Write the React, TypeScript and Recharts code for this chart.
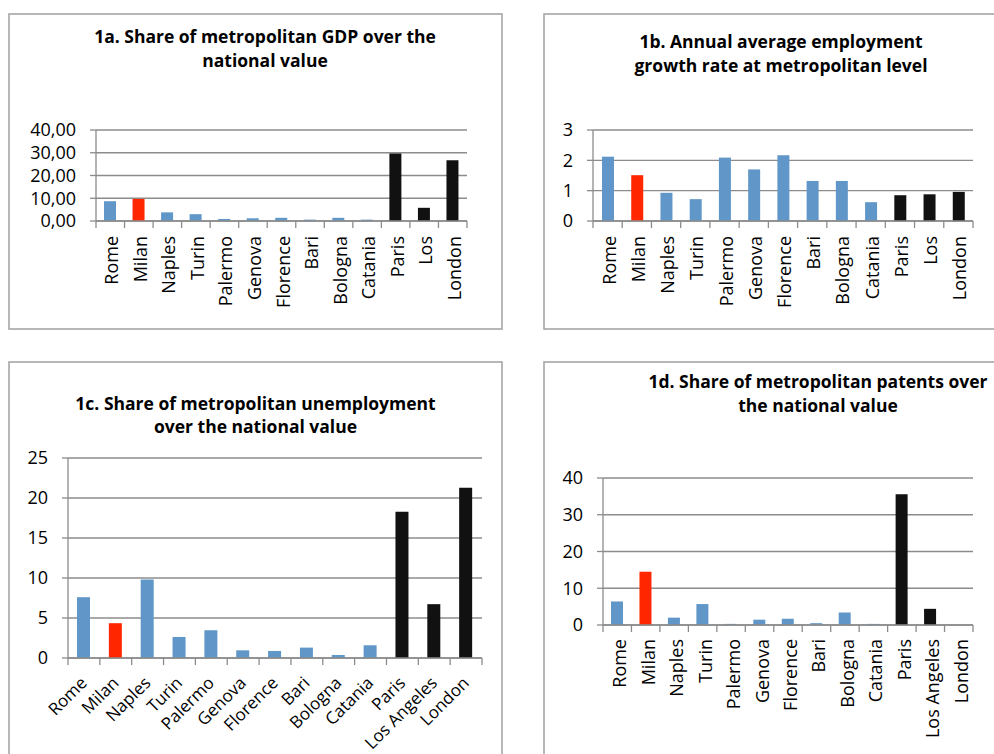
import { BarChart, Bar, XAxis, YAxis, CartesianGrid, Cell } from "recharts";

const cities = [
  "Rome", "Milan", "Naples", "Turin", "Palermo", "Genova", "Florence",
  "Bari", "Bologna", "Catania", "Paris", "Los Angeles", "London",
];
// Excel cut "Los Angeles" to its first line in the two top charts
const shortCities = cities.map((c) => (c === "Los Angeles" ? "Los" : c));
const cityGroup = [
  "italy", "milan", "italy", "italy", "italy", "italy", "italy",
  "italy", "italy", "italy", "abroad", "abroad", "abroad",
];

const gdpShare = [8.7, 9.7, 3.8, 3.0, 0.9, 1.2, 1.4, 0.6, 1.4, 0.6, 29.7, 5.8, 26.7];
const employmentGrowth = [2.12, 1.51, 0.93, 0.72, 2.09, 1.7, 2.17, 1.32, 1.32, 0.62, 0.85, 0.88, 0.96];
const unemploymentShare = [7.6, 4.35, 9.8, 2.63, 3.47, 0.96, 0.88, 1.3, 0.38, 1.59, 18.27, 6.73, 21.28];
const patentShare = [6.4, 14.5, 2.0, 5.7, 0.3, 1.45, 1.7, 0.5, 3.4, 0.3, 35.6, 4.4, 0];

const gdpTicks = [0, 10, 20, 30, 40];
const growthTicks = [0, 1, 2, 3];
const unemploymentTicks = [0, 5, 10, 15, 20, 25];
const patentTicks = [0, 10, 20, 30, 40];

const groupColors: Record<string, string> = {
  italy: "#6097c8",
  milan: "#ff2600",
  abroad: "#111111",
};

const FONT = "'Open Sans', sans-serif";
const GRID = "#8c8c8c";

type Box = { left: number; top: number; width: number; height: number };
type Plot = { left: number; top: number; right: number; bottom: number };

type PanelProps = {
  box: Box;
  plot: Plot;
  labels: string[];
  values: number[];
  ticks: number[];
  barSize: number;
  angle: -90 | -45;
  labelGap: number;
  labelShift: number;
  labelSize?: number;
  decimals?: boolean;
};

function CityTick(props: any) {
  const { x, y, payload, index, angle, gap, shift, half, count, size } = props;
  const h = payload?.offset || half;
  const lines = [x - h];
  if (index === count - 1) lines.push(x + h);
  return (
    <g>
      {lines.map((lx, i) => (
        <line key={i} x1={lx} x2={lx} y1={y} y2={y + 7} stroke={GRID} strokeWidth={1.3} />
      ))}
      <text
        x={x + shift}
        y={y + gap}
        textAnchor="end"
        transform={`rotate(${angle}, ${x + shift}, ${y + gap})`}
        fontFamily={FONT}
        fontSize={size}
        fill="#000"
      >
        {payload.value}
      </text>
    </g>
  );
}

function Panel({ box, plot, labels, values, ticks, barSize, angle, labelGap, labelShift, labelSize = 18, decimals }: PanelProps) {
  const data = labels.map((label, i) => ({ label, value: values[i], group: cityGroup[i] }));
  const half = (plot.right - plot.left) / labels.length / 2;
  return (
    <div style={{ position: "absolute", left: box.left, top: box.top }}>
      <BarChart
        width={box.width}
        height={box.height}
        data={data}
        margin={{ top: plot.top - box.top, right: box.left + box.width - plot.right, left: 0, bottom: 0 }}
      >
        <CartesianGrid vertical={false} stroke={GRID} strokeWidth={1.3} />
        <XAxis
          dataKey="label"
          interval={0}
          height={box.top + box.height - plot.bottom}
          axisLine={{ stroke: GRID, strokeWidth: 1.3 }}
          tickLine={false}
          tickSize={0}
          tickMargin={0}
          tick={(p: any) => (
            <CityTick
              {...p}
              angle={angle}
              gap={labelGap}
              shift={labelShift}
              half={half}
              count={labels.length}
              size={labelSize}
            />
          )}
        />
        <YAxis
          width={plot.left - box.left}
          domain={[ticks[0], ticks[ticks.length - 1]]}
          ticks={ticks}
          interval={0}
          axisLine={{ stroke: GRID, strokeWidth: 1.3 }}
          tickLine={{ stroke: GRID, strokeWidth: 1.3 }}
          tickSize={6}
          tickMargin={14}
          tick={{ fontFamily: FONT, fontSize: 18, fill: "#000" }}
          tickFormatter={(v: number) => (decimals ? v.toFixed(2).replace(".", ",") : String(v))}
        />
        <Bar dataKey="value" barSize={barSize} isAnimationActive={false}>
          {data.map((d, i) => (
            <Cell key={i} fill={groupColors[d.group]} />
          ))}
        </Bar>
      </BarChart>
    </div>
  );
}

const titles = [
  { x: 265, y: 43.3, lines: ["1a. Share of metropolitan GDP over the", "national value"] },
  { x: 781, y: 48.3, lines: ["1b. Annual average employment", "growth rate at metropolitan level"] },
  { x: 255.5, y: 410, lines: ["1c. Share of metropolitan unemployment", "over the national value"] },
  { x: 818, y: 388.3, lines: ["1d. Share of metropolitan patents over", "the national value"] },
];

const frames = [
  { x: 9, y: 14, w: 493, h: 315 },
  { x: 544, y: 14, w: 480, h: 315 },
  { x: 9, y: 362, w: 493, h: 420 },
  { x: 544, y: 362, w: 480, h: 420 },
];

export default function App() {
  return (
    <div
      style={{
        position: "absolute",
        left: 0,
        top: 0,
        width: 994,
        height: 754,
        overflow: "hidden",
        background: "#fff",
      }}
    >
      <Panel
        box={{ left: 9, top: 14, width: 493, height: 315 }}
        plot={{ left: 96, top: 130, right: 467, bottom: 221 }}
        labels={shortCities}
        values={gdpShare}
        ticks={gdpTicks}
        barSize={12}
        angle={-90}
        labelGap={15}
        labelShift={8}
        decimals
      />
      <Panel
        box={{ left: 544, top: 14, width: 450, height: 315 }}
        plot={{ left: 593, top: 130, right: 973, bottom: 221 }}
        labels={shortCities}
        values={employmentGrowth}
        ticks={growthTicks}
        barSize={12}
        angle={-90}
        labelGap={15}
        labelShift={8}
      />
      <Panel
        box={{ left: 9, top: 362, width: 493, height: 392 }}
        plot={{ left: 68, top: 458, right: 482, bottom: 658 }}
        labels={cities}
        values={unemploymentShare}
        ticks={unemploymentTicks}
        barSize={13}
        angle={-45}
        labelGap={26}
        labelShift={4}
        labelSize={17}
      />
      <Panel
        box={{ left: 544, top: 362, width: 450, height: 392 }}
        plot={{ left: 603, top: 478, right: 973, bottom: 625 }}
        labels={cities}
        values={patentShare}
        ticks={patentTicks}
        barSize={12}
        angle={-90}
        labelGap={14}
        labelShift={9}
      />
      <svg
        width={994}
        height={754}
        style={{ position: "absolute", left: 0, top: 0, pointerEvents: "none" }}
      >
        {frames.map((f, i) => (
          <rect key={i} x={f.x} y={f.y} width={f.w} height={f.h} fill="none" stroke="#a0a0a0" strokeWidth={1.5} />
        ))}
        {titles.map((t, i) => (
          <text key={i} textAnchor="middle" fontFamily={FONT} fontWeight="bold" fontSize={17.5} fill="#000">
            {t.lines.map((line, j) => (
              <tspan key={j} x={t.x} y={t.y + j * 23.4}>
                {line}
              </tspan>
            ))}
          </text>
        ))}
      </svg>
    </div>
  );
}
